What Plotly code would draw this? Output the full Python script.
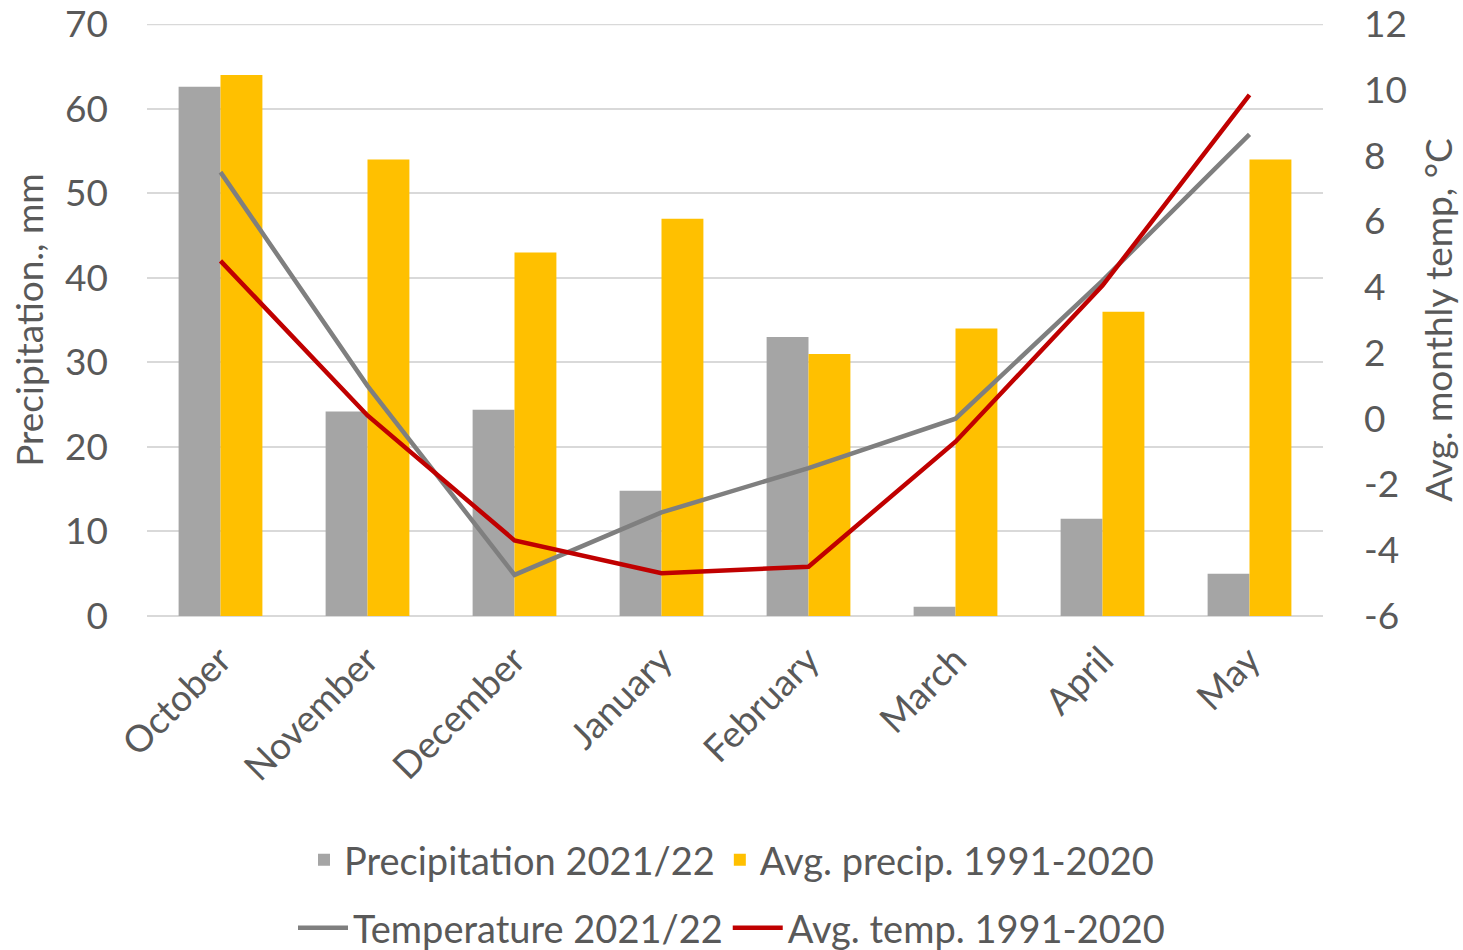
import plotly.graph_objects as go

months = ["October", "November", "December", "January", "February", "March", "April", "May"]
precip_2122 = [62.6, 24.2, 24.4, 14.8, 33.0, 1.1, 11.5, 5.0]
precip_avg = [64.0, 54.0, 43.0, 47.0, 31.0, 34.0, 36.0, 54.0]
temp_2122 = [7.5, 1.0, -4.75, -2.85, -1.5, 0.0, 4.2, 8.65]
temp_avg = [4.8, 0.1, -3.7, -4.7, -4.5, -0.7, 4.05, 9.85]
left_ticks = [0, 10, 20, 30, 40, 50, 60, 70]
right_ticks = [-6, -4, -2, 0, 2, 4, 6, 8, 10, 12]

FONT = "Lato"
TXT = "#595959"
GRID = "#D9D9D9"
FS = 37
LFS = 38
EPS = 1.0003

fig = go.Figure()
fig.add_trace(go.Bar(x=months, y=precip_2122, name="Precipitation 2021/22",
                     marker=dict(color="#A5A5A5", line=dict(width=0)), legend="legend"))
fig.add_trace(go.Bar(x=months, y=precip_avg, name="Avg. precip. 1991-2020",
                     marker=dict(color="#FFC000", line=dict(width=0)), legend="legend"))
fig.add_trace(go.Scatter(x=months, y=temp_2122, name="Temperature 2021/22", mode="lines",
                         line=dict(color="#7F7F7F", width=4.5), yaxis="y2", legend="legend2"))
fig.add_trace(go.Scatter(x=months, y=temp_avg, name="Avg. temp. 1991-2020", mode="lines",
                         line=dict(color="#C00000", width=4.5), yaxis="y2", legend="legend2"))

# top gridline (plotly skips the grid line at the range edge)
fig.add_shape(type="line", xref="x domain", x0=0, x1=1, yref="y", y0=left_ticks[-1], y1=left_ticks[-1],
              line=dict(color=GRID, width=2), layer="below")

fig.update_layout(
    width=1463, height=950,
    margin=dict(l=147, r=140, t=24, b=334, autoexpand=False),
    paper_bgcolor="white", plot_bgcolor="white",
    font=dict(family=FONT, size=FS, color=TXT),
    barmode="group", bargap=0.43, bargroupgap=0,
    xaxis=dict(tickangle=-45, showgrid=False, showline=False, ticks="", automargin=False,
               ticklabelstandoff=14, tickfont=dict(size=FS, color=TXT)),
    yaxis=dict(range=[0, 70 * EPS], tickvals=left_ticks, ticktext=[str(v) for v in left_ticks],
               showgrid=True, gridcolor=GRID, gridwidth=2, automargin=False,
               zeroline=True, zerolinecolor=GRID, zerolinewidth=2,
               ticklabelstandoff=38,
               title=dict(text="Precipitation., mm", font=dict(size=FS, color=TXT), standoff=10),
               tickfont=dict(size=FS, color=TXT), ticks="", ticklen=0),
    yaxis2=dict(range=[-6, -6 + 18 * EPS], tickvals=right_ticks, ticktext=[str(v) for v in right_ticks],
                overlaying="y", side="right", showgrid=False, automargin=False,
                zeroline=False, ticklabelstandoff=40,
                title=dict(text="Avg. monthly temp, °C", font=dict(size=FS, color=TXT), standoff=20),
                tickfont=dict(size=FS, color=TXT)),
    legend=dict(orientation="h", x=0.5, xanchor="center", xref="container",
                y=1 - 860 / 950, yanchor="middle", yref="container",
                font=dict(size=LFS, color=TXT), traceorder="normal"),
    legend2=dict(orientation="h", x=0.5, xanchor="center", xref="container",
                 y=1 - 928 / 950, yanchor="middle", yref="container", itemwidth=50,
                 font=dict(size=LFS, color=TXT), traceorder="normal"),
)

fig.write_html("out.html")
